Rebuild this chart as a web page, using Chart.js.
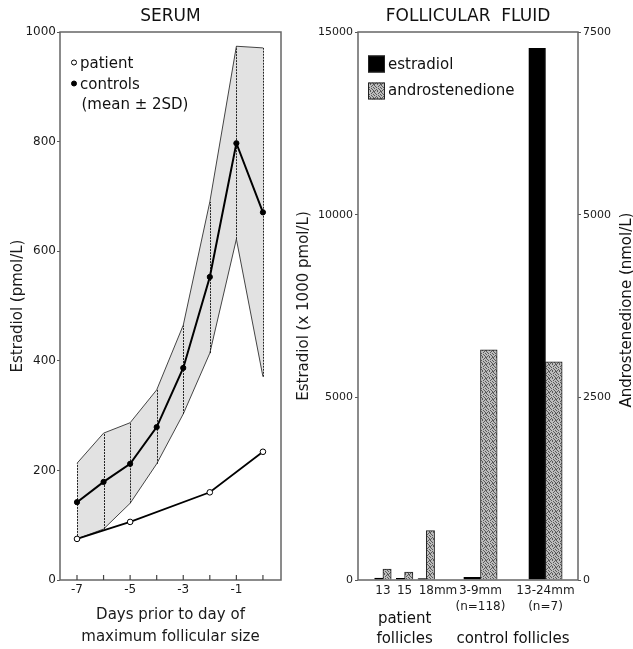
<!DOCTYPE html>
<html lang="en">
<head>
  <meta charset="UTF-8">
  <title>Estradiol in serum and follicular fluid</title>
  <script src="https://cdn.jsdelivr.net/npm/chart.js"></script>
  <style>
    html, body {
      margin: 0;
      padding: 0;
      background: #fff;
      overflow: hidden;
    }
    .panel {
      position: absolute;
      top: 0;
      height: 649px;
    }
    #serumPanel { left: 0; width: 300px; }
    #fluidPanel { left: 290px; width: 350px; }
  </style>
</head>
<body>
  <div id="serumPanel" class="panel"><canvas id="serumChart" width="300" height="649"></canvas></div>
  <div id="fluidPanel" class="panel"><canvas id="fluidChart" width="350" height="649"></canvas></div>

  <script>
    // -----------------------------
    // Serum: days before max follicle size
    // -----------------------------
    const days = [-7, -6, -5, -4, -3, -2, -1, 0];
    const dayTickLabels = ['-7', '', '-5', '', '-3', '', '-1', ''];
    const controlMean = [142, 179, 212, 279, 387, 553, 797, 671];
    const controlUpper = [213, 268, 287, 347, 465, 690, 974, 971];   // mean + 2SD
    const controlLower = [75, 93, 140, 212, 303, 414, 622, 371];     // mean - 2SD
    const patientDays = [-7, -5, -2, 0];
    const patientSerum = [75, 106, 160, 234];
    const controlNote = '(mean \u00b1 2SD)';

    // -----------------------------
    // Follicular fluid
    // -----------------------------
    const follicleSizes = [['13'], ['15'], ['18mm'], ['3-9mm', '(n=118)'], ['13-24mm', '(n=7)']];
    const follicleGroups = ['patient', 'patient', 'patient', 'control', 'control'];
    const groupLabels = { patient: ['patient', 'follicles'], control: ['control follicles'] };
    const estradiolFluid = [50, 45, 40, 70, 14550];    // x 1000 pmol/L
    const androFluid = [150, 110, 675, 3150, 2985];    // nmol/L

    Chart.defaults.font.family = "'DejaVu Sans', sans-serif";
    Chart.defaults.color = '#1a1a1a';

    const FONT = "'DejaVu Sans', sans-serif";
    const plain = v => String(v);   // no thousands separator

    // Box round the plot area
    const framePlugin = {
      id: 'frame',
      afterDatasetsDraw(chart) {
        const { ctx, chartArea: a } = chart;
        ctx.save();
        ctx.strokeStyle = '#666';
        ctx.lineWidth = 1.5;
        ctx.strokeRect(a.left, a.top, a.right - a.left, a.bottom - a.top);
        ctx.restore();
      }
    };

    // -----------------------------
    // Left chart
    // -----------------------------
    const xy = (xs, ys) => xs.map((x, i) => ({ x: x, y: ys[i] }));

    const serumExtras = {
      id: 'serumExtras',
      // vertical ±2SD bars, drawn just after the band (lower edge dataset)
      afterDatasetDraw(chart, args) {
        if (args.index !== 3) return;
        const { ctx, scales: { x, y } } = chart;
        ctx.save();
        ctx.strokeStyle = '#222';
        ctx.lineWidth = 1;
        ctx.setLineDash([2, 1]);
        days.forEach((d, i) => {
          const px = Math.round(x.getPixelForValue(d)) + 0.5;
          ctx.beginPath();
          ctx.moveTo(px, y.getPixelForValue(controlLower[i]));
          ctx.lineTo(px, y.getPixelForValue(controlUpper[i]));
          ctx.stroke();
        });
        ctx.restore();
      },
      afterDraw(chart) {
        const { ctx, chartArea: a, scales: { x } } = chart;
        ctx.save();
        // inward tick marks on the day axis
        ctx.strokeStyle = '#444';
        ctx.lineWidth = 1.2;
        days.forEach(d => {
          const px = x.getPixelForValue(d);
          ctx.beginPath();
          ctx.moveTo(px, a.bottom);
          ctx.lineTo(px, a.bottom - 5);
          ctx.stroke();
        });
        // legend
        const ds = chart.data.datasets;
        const rows = [ds[0], ds[1]];
        ctx.font = '15px ' + FONT;
        ctx.textBaseline = 'alphabetic';
        rows.forEach((row, i) => {
          const base = a.top + 36 + i * 21;
          ctx.beginPath();
          ctx.arc(a.left + 14, base - 5.5, 2.5, 0, Math.PI * 2);
          ctx.fillStyle = row.pointBackgroundColor;
          ctx.fill();
          ctx.lineWidth = 1;
          ctx.strokeStyle = '#000';
          ctx.stroke();
          ctx.fillStyle = '#111';
          ctx.fillText(row.label, a.left + 20, base);
        });
        ctx.fillText(controlNote, a.left + 21.5, a.top + 77);
        ctx.restore();
      }
    };

    new Chart(document.getElementById('serumChart'), {
      type: 'line',
      data: {
        datasets: [
          {
            label: 'patient',
            data: xy(patientDays, patientSerum),
            borderColor: '#000',
            borderWidth: 1.8,
            pointRadius: 2.8,
            pointBorderWidth: 1,
            pointBackgroundColor: '#fff',
            pointBorderColor: '#000',
            fill: false
          },
          {
            label: 'controls',
            data: xy(days, controlMean),
            borderColor: '#000',
            borderWidth: 2,
            pointRadius: 2.6,
            pointBorderWidth: 1,
            pointBackgroundColor: '#000',
            pointBorderColor: '#000',
            fill: false
          },
          {
            label: 'mean + 2SD',
            data: xy(days, controlUpper),
            borderColor: '#444',
            borderWidth: 1,
            pointRadius: 0,
            fill: false
          },
          {
            label: 'mean - 2SD',
            data: xy(days, controlLower),
            borderColor: '#444',
            borderWidth: 1,
            pointRadius: 0,
            backgroundColor: '#e2e2e2',
            fill: '-1'
          }
        ]
      },
      options: {
        responsive: false,
        animation: false,
        layout: { padding: { right: 19 } },
        plugins: {
          legend: { display: false },
          tooltip: { enabled: false },
          title: {
            display: true,
            text: 'SERUM',
            fullSize: false,
            color: '#111',
            font: { size: 17, weight: 'normal' },
            padding: { top: 6, bottom: 5.6 }
          }
        },
        scales: {
          x: {
            type: 'linear',
            min: -7.64,
            max: 0.68,
            offset: false,
            afterBuildTicks: s => { s.ticks = days.map(v => ({ value: v })); },
            afterFit: s => { s.height = 69; },
            ticks: {
              autoSkip: false,
              maxRotation: 0,
              padding: 3,
              font: { size: 12 },
              callback: (v, i) => dayTickLabels[i]
            },
            grid: { display: false, drawTicks: false },
            border: { display: false },
            title: {
              display: true,
              text: ['Days prior to day of', 'maximum follicular size'],
              font: { size: 15, lineHeight: 1.45 },
              padding: { top: 0, bottom: 1 }
            }
          },
          y: {
            min: 0,
            max: 1000,
            afterFit: s => { s.width = 60; },
            ticks: { stepSize: 200, padding: 1, font: { size: 12 }, callback: plain },
            grid: { drawOnChartArea: false, tickLength: 3, color: '#555' },
            border: { display: false },
            title: {
              display: true,
              text: 'Estradiol (pmol/L)',
              font: { size: 15 },
              padding: { top: 9, bottom: 0 }
            }
          }
        }
      },
      plugins: [framePlugin, serumExtras]
    });

    // -----------------------------
    // Right chart
    // -----------------------------
    const fluidCanvas = document.getElementById('fluidChart');

    // fine grey stipple like the print (irregular dots so no hatching shows)
    function stipple(target) {
      const c = document.createElement('canvas');
      c.width = 7;
      c.height = 7;
      const g = c.getContext('2d');
      g.fillStyle = '#bcbcbc';
      g.fillRect(0, 0, 7, 7);
      g.fillStyle = '#5a5a5a';
      const dots = [[0, 0], [3, 0], [5, 1], [1, 2], [4, 2], [6, 3], [2, 3], [0, 4],
                    [4, 4], [5, 5], [2, 5], [1, 6], [6, 6], [3, 6], [6, 0], [0, 1]];
      dots.forEach(p => g.fillRect(p[0], p[1], 1, 1));
      return target.getContext('2d').createPattern(c, 'repeat');
    }
    const androFill = stipple(fluidCanvas);

    // bar-pair centres along the x axis (patient pairs sit close together)
    const slotPos = [1, 2, 3, 5.5, 8.5];
    const pick = (values, group) => values
      .map((v, i) => ({ x: slotPos[i], y: v, g: follicleGroups[i] }))
      .filter(p => p.g === group);

    const fluidExtras = {
      id: 'fluidExtras',
      afterDraw(chart) {
        const { ctx, chartArea: a, scales: { x } } = chart;
        ctx.save();
        // size labels: patient numbers centred under their pair, unit trailing
        ctx.font = '12px ' + FONT;
        ctx.fillStyle = '#1a1a1a';
        ctx.textBaseline = 'middle';
        follicleSizes.forEach((lines, i) => {
          const cx = x.getPixelForValue(slotPos[i]);
          lines.forEach((line, j) => {
            const y = a.bottom + 10.7 + j * 16.6;
            if (follicleGroups[i] === 'patient') {
              const num = line.replace(/mm$/, '');
              ctx.textAlign = 'left';
              ctx.fillText(line, cx - ctx.measureText(num).width / 2, y);
            } else {
              ctx.textAlign = 'center';
              ctx.fillText(line, cx, y);
            }
          });
        });
        // legend
        ctx.font = '15px ' + FONT;
        ctx.textBaseline = 'alphabetic';
        ctx.textAlign = 'left';
        const items = [
          { label: chart.data.datasets[0].label, fill: '#000', top: 23.5, base: 36.5 },
          { label: chart.data.datasets[1].label, fill: androFill, top: 50.5, base: 63 }
        ];
        items.forEach(it => {
          ctx.fillStyle = it.fill;
          ctx.fillRect(a.left + 10, a.top + it.top, 17, 17);
          ctx.strokeStyle = '#222';
          ctx.lineWidth = 1;
          ctx.strokeRect(a.left + 10.5, a.top + it.top + 0.5, 16, 16);
          ctx.fillStyle = '#111';
          ctx.fillText(it.label, a.left + 30, a.top + it.base);
        });
        // group captions under the size labels
        ctx.textAlign = 'center';
        Object.keys(groupLabels).forEach(g => {
          const pos = slotPos.filter((p, i) => follicleGroups[i] === g);
          const cx = x.getPixelForValue((pos[0] + pos[pos.length - 1]) / 2);
          const lines = groupLabels[g];
          lines.forEach((line, j) => {
            const base = a.bottom + 63.3 - (lines.length - 1 - j) * 20.3;
            ctx.fillText(line, cx, base);
          });
        });
        // right axis title, read bottom to top like the left one
        const t = chart.options.scales.y1.title;
        ctx.translate(chart.width - 13, (a.top + a.bottom) / 2 + 4);
        ctx.rotate(-Math.PI / 2);
        ctx.textBaseline = 'middle';
        ctx.fillText(t.text, 0, 0);
        ctx.restore();
      }
    };

    new Chart(fluidCanvas, {
      type: 'bar',
      data: {
        datasets: [
          {
            label: 'estradiol',
            data: pick(estradiolFluid, 'patient'),
            yAxisID: 'y',
            stack: 'e2',
            backgroundColor: '#000',
            borderColor: '#000',
            borderWidth: 1,
            barThickness: 8.3
          },
          {
            label: 'androstenedione',
            data: pick(androFluid, 'patient'),
            yAxisID: 'y1',
            stack: 'a4',
            backgroundColor: androFill,
            borderColor: '#222',
            borderWidth: 1,
            barThickness: 8.3
          },
          {
            label: 'estradiol',
            data: pick(estradiolFluid, 'control'),
            yAxisID: 'y',
            stack: 'e2',
            backgroundColor: '#000',
            borderColor: '#000',
            borderWidth: 1,
            barThickness: 16.7
          },
          {
            label: 'androstenedione',
            data: pick(androFluid, 'control'),
            yAxisID: 'y1',
            stack: 'a4',
            backgroundColor: androFill,
            borderColor: '#222',
            borderWidth: 1,
            barThickness: 16.7
          }
        ]
      },
      options: {
        responsive: false,
        animation: false,
        plugins: {
          legend: { display: false },
          tooltip: { enabled: false },
          title: {
            display: true,
            text: 'FOLLICULAR  FLUID',
            fullSize: false,
            color: '#111',
            font: { size: 17, weight: 'normal' },
            padding: { top: 6, bottom: 5.6 }
          }
        },
        scales: {
          x: {
            type: 'linear',
            min: -0.15,
            max: 10,
            offset: false,
            afterBuildTicks: s => { s.ticks = slotPos.map(v => ({ value: v })); },
            afterFit: s => { s.height = 69; },
            ticks: { display: false },
            grid: { display: false, drawTicks: false, offset: false },
            border: { display: false }
          },
          y: {
            position: 'left',
            min: 0,
            max: 15000,
            afterFit: s => { s.width = 68; },
            ticks: { stepSize: 5000, padding: 2, font: { size: 11 }, callback: plain },
            grid: { drawOnChartArea: false, tickLength: 3, color: '#555' },
            border: { display: false },
            title: {
              display: true,
              text: 'Estradiol (x 1000 pmol/L)',
              font: { size: 15 },
              padding: { top: 5, bottom: 0 }
            }
          },
          y1: {
            position: 'right',
            min: 0,
            max: 7500,
            afterFit: s => { s.width = 62; },
            ticks: { stepSize: 2500, padding: 2, font: { size: 11 }, callback: plain },
            grid: { drawOnChartArea: false, tickLength: 3, color: '#555' },
            border: { display: false },
            // drawn by fluidExtras so that it reads upwards
            title: { display: false, text: 'Androstenedione (nmol/L)' }
          }
        }
      },
      plugins: [framePlugin, fluidExtras]
    });
  </script>
</body>
</html>
